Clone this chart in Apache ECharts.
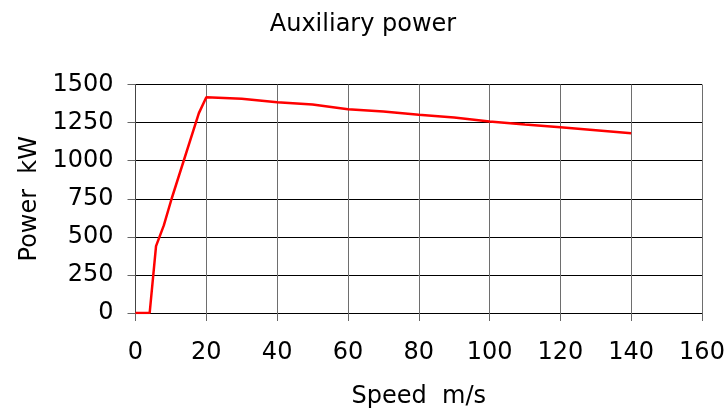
<!DOCTYPE html>
<html>
<head>
<meta charset="utf-8">
<script src="https://cdn.jsdelivr.net/npm/echarts@6/dist/echarts.min.js"></script>
<style>html,body{margin:0;padding:0;background:#fff}#c{width:726px;height:408px}</style>
</head>
<body>
<div id="c"></div>
<script>
const speed = [0, 4, 5.8, 8, 10.2, 17.9, 20, 30, 40, 50, 60, 70, 80, 90, 100, 110, 120, 130, 140];
const power = [0, 0, 439, 575, 750, 1312, 1416, 1406, 1384, 1368, 1338, 1322, 1301, 1284, 1257, 1238, 1220, 1200, 1180];
const titleText = 'Auxiliary power';
const xName = 'Speed  m/s';
const yName = 'Power  kW';

const font = 'DejaVu Sans';
const chart = echarts.init(document.getElementById('c'), null, {renderer: 'canvas'});
chart.setOption({
  animation: false,
  backgroundColor: '#fff',
  title: {
    text: titleText, left: 'center', top: 8,
    textStyle: {fontFamily: font, fontSize: 24, fontWeight: 'normal', color: '#000'}
  },
  grid: {left: 135.5, right: 24, top: 84.5, bottom: 95, containLabel: false, outerBoundsMode: 'none'},
  xAxis: {
    type: 'value', min: 0, max: 160, interval: 20,
    name: xName, nameLocation: 'middle', nameGap: 72,
    nameTextStyle: {fontFamily: font, fontSize: 24, color: '#000'},
    axisLine: {show: true, onZero: false, lineStyle: {color: '#000', width: 1}},
    axisTick: {show: true, length: 8, lineStyle: {color: '#666'}},
    axisLabel: {fontFamily: font, fontSize: 24, color: '#000', margin: 28, formatter: v => String(v)},
    splitLine: {show: true, lineStyle: {color: '#6e6e6e', width: 1}}
  },
  yAxis: {
    type: 'value', min: 0, max: 1500, interval: 250,
    name: yName, nameLocation: 'middle', nameGap: 93,
    nameTextStyle: {fontFamily: font, fontSize: 24, color: '#000'},
    axisLine: {show: true, lineStyle: {color: '#444', width: 1}},
    axisTick: {show: true, length: 8, lineStyle: {color: '#666'}},
    axisLabel: {fontFamily: font, fontSize: 24, color: '#000', margin: 22, formatter: v => String(v)},
    splitLine: {show: true, lineStyle: {color: '#000', width: 1}}
  },
  series: [{
    type: 'line',
    data: speed.map((s, i) => [s, power[i]]),
    showSymbol: false, symbol: 'none',
    lineStyle: {color: '#ff0000', width: 2.5},
    itemStyle: {color: '#ff0000'}
  }]
});
</script>
</body>
</html>
